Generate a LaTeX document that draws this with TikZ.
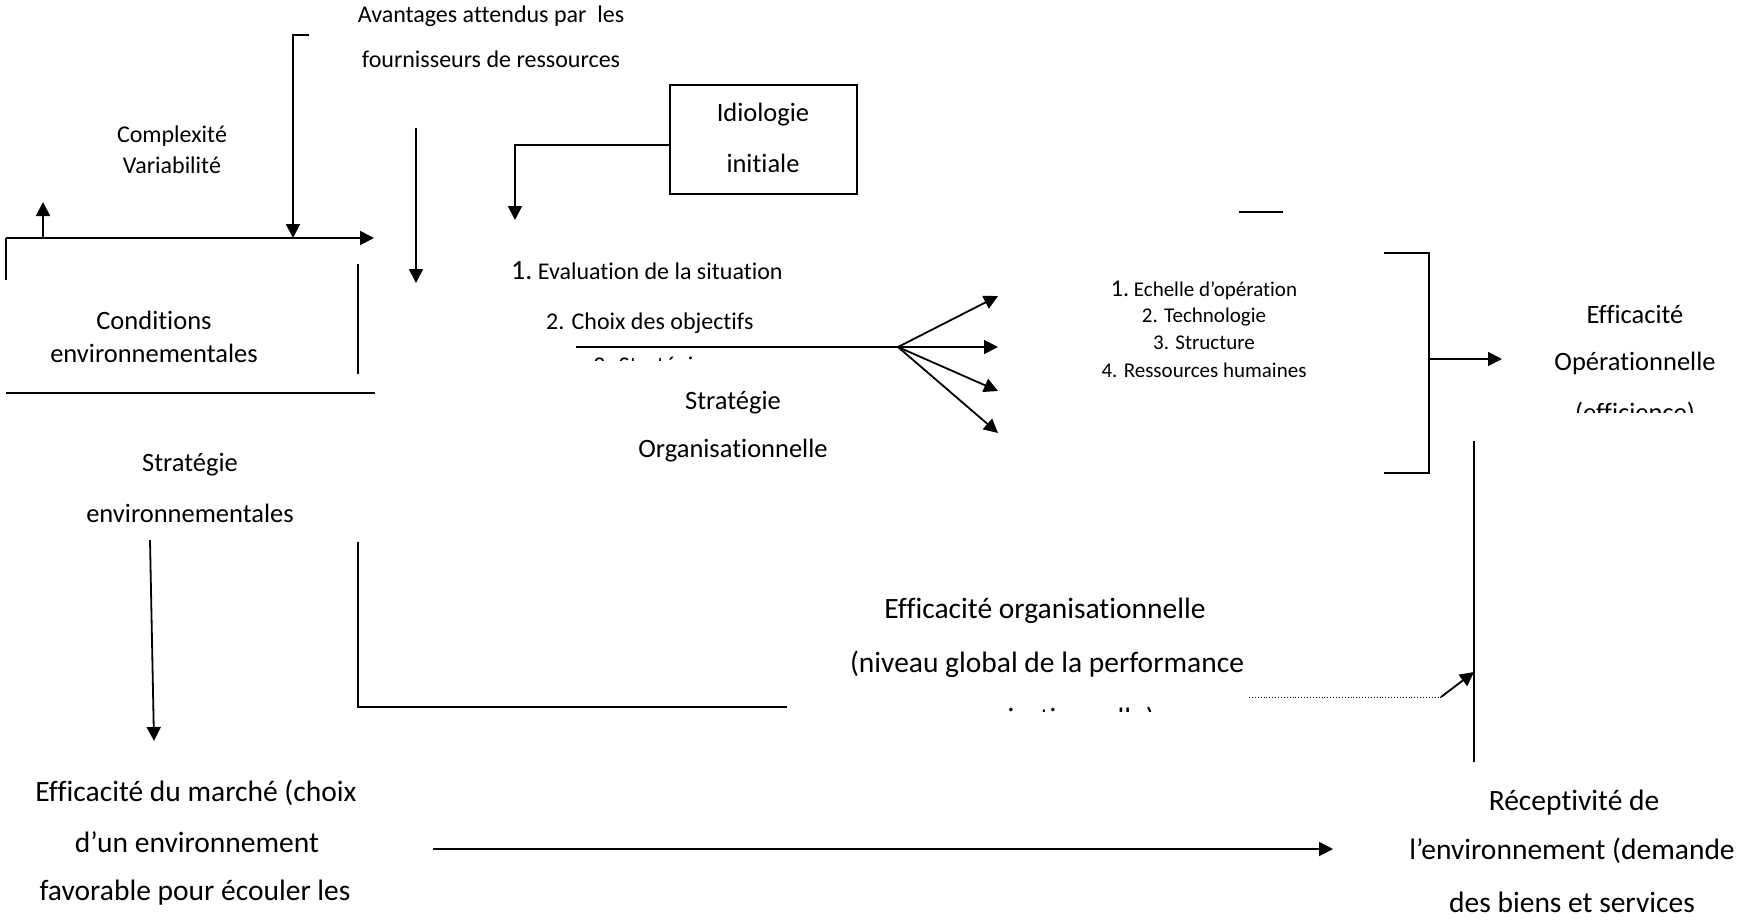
\documentclass[tikz,border=0pt]{standalone}
\usepackage{fontspec}
\setmainfont{Carlito}[Ligatures={NoCommon,NoRequired,NoContextual}]
\usetikzlibrary{arrows.meta}
\begin{document}
\begin{tikzpicture}[x=1pt,y=-1pt,
  ln/.style={line width=1.8pt},
  thin/.style={line width=1.3pt},
  arr/.style={line width=1.8pt,-{Triangle[length=14pt,width=14pt]}},
  dots/.style={line width=0.9pt,dotted},
  lbl/.style={inner sep=0pt,font=\fontsize{26.5}{30}\selectfont},
  lblS/.style={inner sep=0pt,font=\fontsize{24}{28}\selectfont},
  lblXS/.style={inner sep=0pt,font=\fontsize{21}{25}\selectfont},
  lblL/.style={inner sep=0pt,font=\fontsize{29.5}{34}\selectfont},
  box/.style={draw,line width=1.8pt,inner sep=0pt,minimum width=187pt,minimum height=109pt}]
\useasboundingbox (0,0) rectangle (1742,922);

% ---------- labels ----------
\node[lblS] (av1) at (491,16) {Avantages attendus par\ \ les};
\node[lblS] (av2) at (491,59) {fournisseurs de ressources};
\node[lblS] (cx1) at (172,136) {Complexité};
\node[lblS] (cx2) at (172,165) {Variabilité};
\node[lbl] (ce1) at (154,320) {Conditions};
\node[lbl] (ce2) at (154,353) {environnementales};
\node[lbl] (se1) at (190,465) {Stratégie};
\node[lbl] (se2) at (190,513) {environnementales};
\node[box] (ideo) at (763.5,139.5) {};
\node[lbl] (id1) at (763,115) {Idiologie};
\node[lbl] (id2) at (763,163) {initiale};

\node[inner sep=0pt,anchor=base west] (ev1) at (511,279)
  {\fontsize{28}{32}\selectfont 1.\fontsize{24}{28}\selectfont\ Evaluation de la situation};
\node[lblS,anchor=base west] (ev2) at (546,329) {2. Choix des objectifs};
\begin{scope}
  \clip (560,349) rectangle (800,360);
  \node[lblS,anchor=base west] (ev3) at (593,373) {3. Stratégie};
\end{scope}
\node[lbl] (so1) at (733,403) {Stratégie};
\node[lbl] (so2) at (733,451) {Organisationnelle};

\node[inner sep=0pt] (op1) at (1204,290) {\fontsize{24}{28}\selectfont 1.\fontsize{21}{25}\selectfont\ Echelle d’opération};
\node[lblXS] (op2) at (1204,317) {2. Technologie};
\node[lblXS] (op3) at (1204,343) {3. Structure};
\node[lblXS] (op4) at (1204,370) {4. Ressources humaines};

\node[lbl] (eo1) at (1635,314) {Efficacité};
\node[lbl] (eo2) at (1635,363) {Opérationnelle};
\begin{scope}
  \clip (1540,390) rectangle (1740,412);
  \node[lbl] (eo3) at (1635,414) {(efficience)};
\end{scope}

\node[lblL] (eg1) at (1045,611) {Efficacité organisationnelle};
\node[lblL] (eg2) at (1047,664) {(niveau global de la performance};
\begin{scope}
  \clip (880,690) rectangle (1240,711);
  \node[lblL] (eg3) at (1047,720) {organisationnelle)};
\end{scope}

\node[lblL] (em1) at (196,793) {Efficacité du marché (choix};
\node[lblL] (em2) at (197,842) {d’un environnement};
\node[lblL] (em3) at (195,893) {favorable pour écouler les};

\node[lblL] (re1) at (1574,803) {Réceptivité de};
\node[lblL] (re2) at (1572,851) {l’environnement (demande};
\node[lblL] (re3) at (1572,902) {des biens et services};

% ---------- connector points ----------
\coordinate (tkA) at (309,35);
\coordinate (tkB) at (293,35);
\coordinate (tkC) at (293,238);
\coordinate (hL) at (6,238);
\coordinate (hR) at (374,238);
\coordinate (hLb) at (6,280);
\coordinate (upA) at (43,238);
\coordinate (upB) at (43,202);
\coordinate (vA) at (358,264);
\coordinate (vB) at (358,374);
\coordinate (dA) at (416,128);
\coordinate (dB) at (416,283);
\coordinate (sepL) at (6,393);
\coordinate (sepR) at (375,393);
\coordinate (mkA) at (150,540);
\coordinate (mkB) at (154,741);
\coordinate (lwA) at (358,542);
\coordinate (lwB) at (358,707);
\coordinate (lwC) at (787,707);
\coordinate (idA) at (ideo.west |- 0,145);
\coordinate (idB) at (515,145);
\coordinate (idC) at (515,220);
\coordinate (stL) at (576,347);
\coordinate (fan) at (898,347);
\coordinate (f1) at (998,296);
\coordinate (f2) at (998,347);
\coordinate (f3) at (998,391);
\coordinate (f4) at (998,433);
\coordinate (smA) at (1239,212);
\coordinate (smB) at (1283,212);
\coordinate (brA) at (1384,253);
\coordinate (brB) at (1429,253);
\coordinate (brC) at (1429,473);
\coordinate (brD) at (1384,473);
\coordinate (brM) at (1429,359);
\coordinate (brT) at (1502,359);
\coordinate (rvA) at (1474,441);
\coordinate (rvB) at (1474,762);
\coordinate (dtA) at (1249,697);
\coordinate (dtB) at (1441,697);
\coordinate (dtC) at (1474,672);
\coordinate (btA) at (433,849);
\coordinate (btB) at (1333,849);

% ---------- connectors ----------
\draw[arr] (tkA) -- (tkB) -- (tkC);
\draw[arr] (hL) -- (hR);
\draw[ln] (hL) -- (hLb);
\draw[arr] (upA) -- (upB);
\draw[thin] (vA) -- (vB);
\draw[arr] (dA) -- (dB);
\draw[ln] (sepL) -- (sepR);
\draw[arr] (mkA) -- (mkB);
\draw[thin] (lwA) -- (lwB) -- (lwC);
\draw[arr] (idA) -- (idB) -- (idC);
\draw[ln] (stL) -- (fan);
\foreach \f in {f1,f2,f3,f4} \draw[arr] (fan) -- (\f);
\draw[ln] (smA) -- (smB);
\draw[ln] (brA) -- (brB) -- (brC) -- (brD);
\draw[arr] (brM) -- (brT);
\draw[thin] (rvA) -- (rvB);
\draw[dots] (dtA) -- (dtB);
\draw[arr] (dtB) -- (dtC);
\draw[arr] (btA) -- (btB);
\end{tikzpicture}
\end{document}
